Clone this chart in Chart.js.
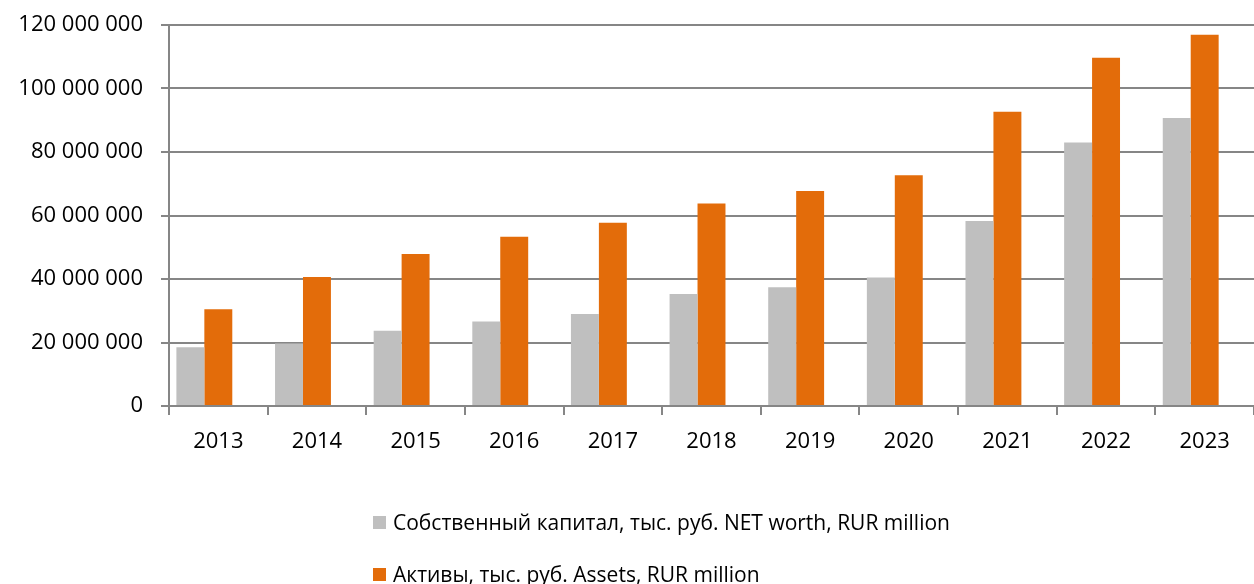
<!DOCTYPE html>
<html>
<head>
<meta charset="utf-8">
<script src="https://cdn.jsdelivr.net/npm/chart.js@4/dist/chart.umd.min.js"></script>
<style>
  html, body { margin: 0; padding: 0; background: #fff; }
  #wrap { position: relative; width: 1254px; height: 584px; }
  #legend { position: absolute; left: 373px; top: 505px; font-family: "Open Sans", sans-serif; font-size: 21px; color: #000; }
  .item { display: flex; align-items: center; height: 34px; margin-bottom: 18px; }
  .box { width: 13px; height: 13px; margin-right: 7px; }
</style>
</head>
<body>
<div id="wrap">
  <canvas id="chart" width="1254" height="584"></canvas>
  <div id="legend"></div>
</div>
<script>
const years = ['2013', '2014', '2015', '2016', '2017', '2018', '2019', '2020', '2021', '2022', '2023'];
// values in thousand rubles
const netWorth = [18500000, 19700000, 23700000, 26600000, 29000000, 35300000, 37400000, 40500000, 58300000, 83000000, 90700000];
const assets = [30500000, 40600000, 47900000, 53300000, 57700000, 63800000, 67700000, 72700000, 92700000, 109700000, 116900000];
const yTicks = [0, 20000000, 40000000, 60000000, 80000000, 100000000, 120000000];

const labelNet = 'Собственный капитал, тыс. руб. NET worth, RUR million';
const labelAssets = 'Активы, тыс. руб. Assets, RUR million';

const font = { family: '"Open Sans", sans-serif', size: 22 };

const ctx = document.getElementById('chart').getContext('2d');
const chart = new Chart(ctx, {
  type: 'bar',
  data: {
    labels: years,
    datasets: [
      { label: labelNet, data: netWorth, backgroundColor: '#bfbfbf' },
      { label: labelAssets, data: assets, backgroundColor: '#e36c0a' },
      // empty third slot so bars sit left of the category centre, like the original
      { label: '', data: years.map(() => null), backgroundColor: 'transparent' }
    ]
  },
  options: {
    responsive: false,
    animation: false,
    layout: { padding: { top: 25, right: 0, bottom: 118, left: 0 } },
    datasets: { bar: { categoryPercentage: 0.85, barPercentage: 1 } },
    plugins: {
      legend: { display: false },
      tooltip: { enabled: false }
    },
    scales: {
      x: {
        grid: { offset: true, drawOnChartArea: false, drawTicks: true, tickLength: 9, color: '#868686', lineWidth: 2 },
        border: { color: '#868686', width: 2 },
        ticks: { color: '#000', font: font, padding: 14 },
        afterFit: s => { s.height = 60; }
      },
      y: {
        min: 0,
        max: 120000000,
        afterBuildTicks: s => { s.ticks = yTicks.map(v => ({ value: v })); },
        grid: { color: '#868686', lineWidth: 2, tickLength: 8 },
        border: { color: '#868686', width: 2 },
        ticks: {
          color: '#000',
          font: font,
          padding: 18,
          callback: v => v.toLocaleString('ru-RU').replace(/\s/g, ' ')
        },
        afterFit: s => { s.width = 169; s.paddingTop = 0; s.paddingBottom = 0; }
      }
    }
  }
});

// legend rows built from the chart's own datasets
const legend = document.getElementById('legend');
chart.data.datasets.slice(0, 2).forEach(ds => {
  const row = document.createElement('div');
  row.className = 'item';
  row.innerHTML = '<span class="box" style="background:' + ds.backgroundColor + '"></span><span>' + ds.label + '</span>';
  legend.appendChild(row);
});
</script>
</body>
</html>
